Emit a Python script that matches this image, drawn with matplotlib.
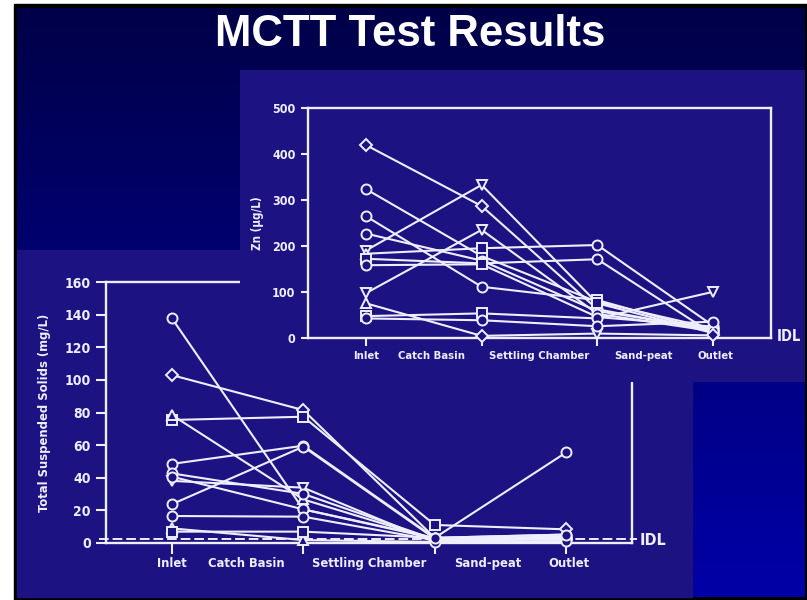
import numpy as np
import matplotlib
matplotlib.use('Agg')
from matplotlib import pyplot as plt
from matplotlib import font_manager
from matplotlib.patches import Rectangle

# ---- data -------------------------------------------------------------
stages = ['Inlet', 'Catch Basin', 'Settling Chamber', 'Sand-peat', 'Outlet']

# Zn (ug/L) at the four sampling points: inlet, after catch basin,
# after settling chamber, outlet
zn_values = [
    [420, 287, 62, 15],
    [324, 178, 78, 20],
    [265, 111, 82, 12],
    [227, 168, 58, 18],
    [190, 333, 75, 10],
    [183, 195, 202, 26],
    [172, 162, 171, 8],
    [158, 160, 45, 24],
    [97, 235, 52, 14],
    [75, 4, 9, 5],
    [47, 53, 42, 100],
    [42, 38, 25, 35],
]
zn_markers = ['DDoo', 'osso', 'ooso', 'oooo', 'vvso', '^soo',
              'ssov', 'osoo', 'vvoo', '^DvD', 'ssov', 'oooo']
zn_ticks = [0, 100, 200, 300, 400, 500]

# Total suspended solids (mg/L)
tss_values = [
    [138, 20.5, 3, 2],
    [103, 81.5, 3, 5],
    [75.4, 77.4, 10.9, 8.2],
    [78.5, 26.6, 2, 3],
    [48.4, 59.6, 3, 55.5],
    [23.6, 59.0, 2.5, 3],
    [38, 33.8, 0.3, 3],
    [42.6, 30, 2, 4],
    [40.6, 20.5, 2.5, 3],
    [16.4, 16, 1.5, 2],
    [8.8, 1.6, 0.5, 1],
    [6.8, 6.8, 3, 5],
]
tss_markers = ['oooo', 'DDoo', 'sssD', '^^oo', 'oooo', 'oooo',
               'vvvo', 'oooo', 'oooo', 'oooo', '^^oo', 'ssoo']
tss_ticks = [0, 20, 40, 60, 80, 100, 120, 140, 160]
idl_tss = 2.5

# ---- style ------------------------------------------------------------
W, H = 807, 600
FG = '#eeeeff'
PANEL = '#1c1282'
label_pos = [0, 0.57, 1.5, 2.4, 3.02]   # where the stage names sit on the x axis


def pick_narrow_font():
    # the slide uses a condensed bold sans; use one if the system has it
    for f in font_manager.fontManager.ttflist:
        name = f.name.lower()
        cond = ('narrow' in name or 'condensed' in name or
                str(f.stretch).lower() in ('condensed', 'semi-condensed', 'semicondensed'))
        bold = (f.weight in ('bold', 'semibold', 'demibold') or
                (isinstance(f.weight, int) and f.weight >= 600))
        if cond and bold and 'mono' not in name and 'serif' not in name.replace('sans', ''):
            return font_manager.FontProperties(fname=f.fname), 1.0
    return font_manager.FontProperties(family='Liberation Sans', weight='bold'), 0.84


NARROW, SCALE = pick_narrow_font()


def ntext(size):
    fp = NARROW.copy()
    fp.set_size(size * SCALE)
    return fp


def fig_rect(x0, y0, x1, y1):
    # pixel box (top-left origin) -> figure fraction [l, b, w, h]
    return [x0 / W, 1 - y1 / H, (x1 - x0) / W, (y1 - y0) / H]


def draw_chart(ax, values, markers, ticks, ylim, ylabel, sizes, tick_len, label_off):
    fs_stage, fs_tick, fs_ylab = sizes
    ax.set_facecolor('none')
    x = np.arange(4)
    for vals in values:
        ax.plot(x, vals, color=FG, lw=1.5, zorder=2, clip_on=False)
    for vals, mk in zip(values, markers):
        for xi, v, m in zip(x, vals, mk):
            size = {'o': 7.2, 'D': 6.2, 's': 6.5, 'v': 7.5, '^': 7.5}[m]
            ax.plot(xi, v, marker=m, ms=size, mfc=PANEL, mec=FG, mew=1.4,
                    zorder=3, clip_on=False)
    ax.set_xlim(-0.5, 3.5)
    ax.set_ylim(*ylim)
    for s in ax.spines.values():
        s.set_color(FG)
        s.set_linewidth(1.7)
    ax.set_xticks(x)
    ax.set_xticklabels([])
    ax.set_yticks(ticks)
    ax.tick_params(axis='both', colors=FG, width=1.5, direction='out')
    ax.tick_params(axis='x', length=tick_len + 1)
    ax.tick_params(axis='y', length=tick_len, pad=4)
    for lbl in ax.get_yticklabels():
        lbl.set_fontproperties(ntext(fs_tick))
    for name, xp in zip(stages, label_pos):
        ax.text(xp, label_off, name, transform=ax.get_xaxis_transform(),
                ha='center', va='center', color=FG, fontproperties=ntext(fs_stage))
    ax.set_ylabel(ylabel, color=FG, fontproperties=ntext(fs_ylab))


fig = plt.figure(figsize=(W / 100, H / 100), dpi=100, facecolor='white')

# slide background: black frame, dark-to-bright blue gradient
bg = fig.add_axes([0, 0, 1, 1], zorder=0)
bg.add_patch(Rectangle((14, 4), W - 14, H - 4, color='black', zorder=0))
grad = np.linspace(0, 1, 256)[:, None]
cols = np.zeros((256, 1, 3))
cols[..., 2] = (72 + 96 * grad) / 255
bg.imshow(cols, extent=(17, 805, 597, 8), aspect='auto',
          interpolation='bilinear', zorder=1)
bg.add_patch(Rectangle((17, 250), 692 - 17, 597 - 250, color=PANEL, zorder=2))
bg.set_xlim(0, W)
bg.set_ylim(H, 0)
bg.axis('off')
bg.text(410, 34, 'MCTT Test Results', ha='center', va='center', color='white',
        fontsize=31.5, family='Liberation Sans', weight='bold', zorder=3)

# lower chart: total suspended solids
ax_tss = fig.add_axes(fig_rect(106, 282.3, 632, 542.7), zorder=1)
draw_chart(ax_tss, tss_values, tss_markers, tss_ticks, (0, 160),
           'Total Suspended Solids (mg/L)', (9.3, 10, 9.3), 7, -0.081)
ax_tss.yaxis.set_label_coords(-0.105, 0.5)
ax_tss.plot([-0.55, 3.54], [idl_tss, idl_tss], ls=(0, (5, 2)), color=FG,
            lw=1.4, clip_on=False, zorder=1)
ax_tss.text(3.555, 1.2, 'IDL', color=FG, va='center', ha='left',
            fontproperties=ntext(11.5))

# upper panel sits on top of the lower chart
panel = fig.add_axes(fig_rect(240, 70, 805, 382), zorder=2)
panel.set_facecolor(PANEL)
panel.set_xticks([])
panel.set_yticks([])
for s in panel.spines.values():
    s.set_visible(False)

# upper chart: zinc
ax_zn = fig.add_axes(fig_rect(308, 108.3, 771, 337.7), zorder=3)
draw_chart(ax_zn, zn_values, zn_markers, zn_ticks, (0, 500),
           'Zn (µg/L)', (8.1, 9, 8.3), 5, -0.078)
ax_zn.yaxis.set_label_coords(-0.095, 0.5)
ax_zn.text(3.546, 2, 'IDL', color=FG, va='center', ha='left',
           fontproperties=ntext(10.5))

fig.savefig('out.png', dpi=100, facecolor='white')
